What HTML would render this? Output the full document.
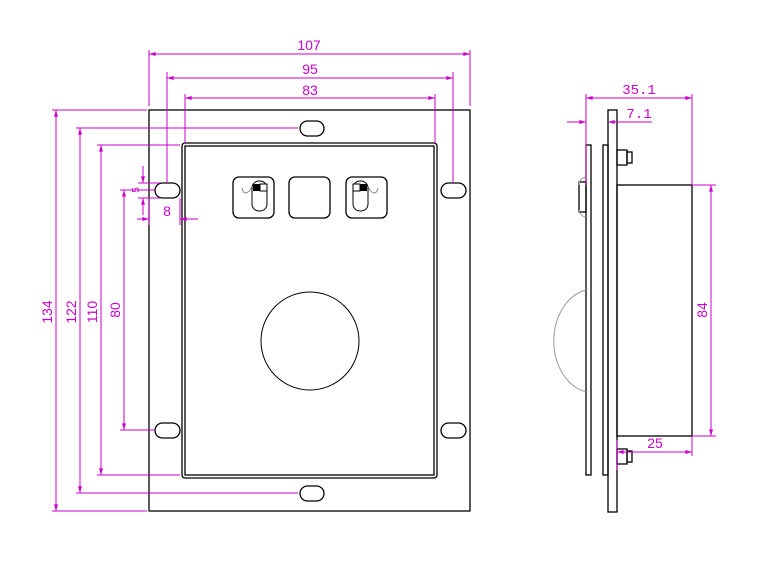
<!DOCTYPE html>
<html><head><style>body{margin:0;background:#fff}svg{display:block}</style></head><body>
<svg width="777" height="583" viewBox="0 0 777 583" xmlns="http://www.w3.org/2000/svg" font-family="Liberation Sans, sans-serif">
<defs>
<marker id="a" viewBox="0 0 10 6" refX="10" refY="3" markerWidth="8" markerHeight="4" orient="auto-start-reverse"><path d="M0,0L10,3L0,6z" fill="#c0c"/></marker>
</defs>
<g fill="none" stroke="#000" stroke-width="1.3">
<rect x="149" y="110" width="321" height="401"/>
<rect x="182" y="143" width="255" height="335" rx="3"/>
<rect x="185" y="146" width="249" height="329"/>
<rect x="300" y="121" width="24" height="15" rx="7.5"/>
<rect x="300" y="486" width="24" height="15" rx="7.5"/>
<rect x="155" y="183" width="25" height="15" rx="7.5"/>
<rect x="441" y="183" width="25" height="15" rx="7.5"/>
<rect x="155" y="423" width="25" height="15" rx="7.5"/>
<rect x="441" y="423" width="25" height="15" rx="7.5"/>
<rect x="233" y="177" width="41" height="41" rx="6"/>
<rect x="289" y="177" width="41" height="41" rx="6"/>
<rect x="346" y="177" width="41" height="41" rx="6"/>
<rect x="252" y="181" width="15" height="30" rx="7" stroke-width="1"/>
<rect x="353" y="181" width="15" height="30" rx="7" stroke-width="1"/>
<circle cx="310" cy="341" r="49" stroke-width="1"/>
<rect x="608" y="110" width="9" height="402"/>
<rect x="586" y="145" width="5" height="330"/>
<rect x="603" y="145" width="5" height="330"/>
<rect x="617" y="185" width="75" height="251"/>
<rect x="617" y="150" width="10" height="15"/><rect x="627" y="152" width="5" height="11"/>
<rect x="617" y="449" width="10" height="15"/><rect x="627" y="451" width="5" height="11"/>
<rect x="579" y="182" width="7" height="30"/>
</g>
<path d="M252,186 C248,196 243,194 242,188 M368,186 C372,196 377,194 378,188" fill="none" stroke="#888"/>
<rect x="253" y="184" width="7" height="7" fill="#000"/><rect x="260" y="184" width="7" height="7" fill="#fff" stroke="#000"/>
<rect x="360" y="184" width="7" height="7" fill="#000"/><rect x="353" y="184" width="7" height="7" fill="#fff" stroke="#000"/>
<path d="M586,290 A40,52 0 0 0 586,392" fill="none" stroke="#999"/>
<path d="M586,177 A8,8 0 0 0 579,185 M579,210 A8,8 0 0 0 586,217" fill="none" stroke="#999"/>
<g stroke="#c0c" stroke-width="1" fill="none">
<path d="M149,50V106M470,50V106M167,72V183M453,72V183M185,94V143M435,94V143"/>
<path d="M52,110H147M76,128H298M97,145H180M120,430H155"/>
<path d="M52,511H147M76,493H298M97,475H180"/>
<path d="M149,54H470" marker-start="url(#a)" marker-end="url(#a)"/>
<path d="M167,78H453" marker-start="url(#a)" marker-end="url(#a)"/>
<path d="M185,98H435" marker-start="url(#a)" marker-end="url(#a)"/>
<path d="M56,110V511" marker-start="url(#a)" marker-end="url(#a)"/>
<path d="M80,128V493" marker-start="url(#a)" marker-end="url(#a)"/>
<path d="M101,145V475" marker-start="url(#a)" marker-end="url(#a)"/>
<path d="M124,190V430" marker-start="url(#a)" marker-end="url(#a)"/>
<path d="M120,190H155M138,183H160M138,198H160"/>
<path d="M143,166V183" marker-end="url(#a)"/><path d="M143,215V198" marker-end="url(#a)"/>
<path d="M149,198V225M180,198V225"/>
<path d="M137,219H149" marker-end="url(#a)"/><path d="M198,219H180" marker-end="url(#a)"/>
<path d="M586,94V185M692,94V185"/>
<path d="M586,98H692" marker-start="url(#a)" marker-end="url(#a)"/>
<path d="M567,122H586" marker-end="url(#a)"/><path d="M652,122H608" marker-end="url(#a)"/>
<path d="M692,185H716M692,436H716"/>
<path d="M711,185V436" marker-start="url(#a)" marker-end="url(#a)"/>
<path d="M617,440V470M692,436V456"/>
<path d="M617,452H692" marker-start="url(#a)" marker-end="url(#a)"/>
</g>
<g fill="#c0c" font-size="14">
<text x="309" y="50" text-anchor="middle">107</text>
<text x="310" y="74" text-anchor="middle">95</text>
<text x="310" y="95" text-anchor="middle">83</text>
<text transform="translate(52,312) rotate(-90)" text-anchor="middle">134</text>
<text transform="translate(76,312) rotate(-90)" text-anchor="middle">122</text>
<text transform="translate(97,312) rotate(-90)" text-anchor="middle">110</text>
<text transform="translate(120,310) rotate(-90)" text-anchor="middle">80</text>
<text transform="translate(139,190) rotate(-90)" text-anchor="middle" font-size="10">5</text>
<text x="167" y="216" text-anchor="middle">8</text>
<text x="639" y="94" text-anchor="middle" font-family="Liberation Mono, monospace">35.1</text>
<text x="639" y="118" text-anchor="middle" font-family="Liberation Mono, monospace">7.1</text>
<text transform="translate(707,310) rotate(-90)" text-anchor="middle">84</text>
<text x="655" y="448" text-anchor="middle">25</text>
</g>
</svg>
</body></html>
